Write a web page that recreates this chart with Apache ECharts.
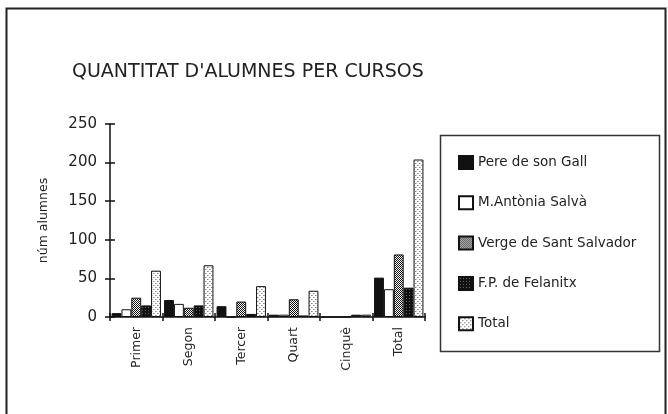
<!DOCTYPE html>
<html><head><meta charset="utf-8">
<script src="https://cdn.jsdelivr.net/npm/echarts@6/dist/echarts.min.js"></script>
<style>html,body{margin:0;padding:0;background:#fff}#c{width:668px;height:414px}</style>
</head><body><div id="c"></div>
<script>
const categories = ['Primer', 'Segon', 'Tercer', 'Quart', 'Cinquè', 'Total'];
const seriesNames = ['Pere de son Gall', 'M.Antònia Salvà', 'Verge de Sant Salvador', 'F.P. de Felanitx', 'Total'];
const pereValues   = [5, 22, 14, 3, 0, 51];
const antoniaValues = [10, 17, 0, 3, 0, 36];
const vergeValues  = [25, 12, 20, 23, 0, 81];
const fpValues     = [15, 15, 4, 2, 3, 38];
const totalValues  = [60, 67, 40, 34, 3, 204];
const yTicks = [0, 50, 100, 150, 200, 250];

function pattern(size, bg, dots) {
  const c = document.createElement('canvas');
  c.width = size; c.height = size;
  const g = c.getContext('2d');
  g.fillStyle = bg; g.fillRect(0, 0, size, size);
  dots.forEach(d => { g.fillStyle = d[2]; g.fillRect(d[0], d[1], 1, 1); });
  return { image: c, repeat: 'repeat' };
}
const vergeFill = pattern(2, '#fff', [[0,0,'#111'],[1,1,'#111']]);
const fpFill = pattern(3, '#111', [[1,1,'#666']]);
const totalFill = pattern(4, '#fff', [[1,1,'#888'],[3,3,'#888'],[2,1,'#bbb'],[0,3,'#bbb']]);

const fills = ['#111', '#fff', vergeFill, fpFill, totalFill];
const datas = [pereValues, antoniaValues, vergeValues, fpValues, totalValues];

const font = 'DejaVu Sans';
const chart = echarts.init(document.getElementById('c'), null, { renderer: 'canvas' });
chart.setOption({
  animation: false,
  backgroundColor: '#fff',
  title: {
    text: "QUANTITAT D'ALUMNES PER CURSOS",
    left: 67, top: 58,
    textStyle: { fontFamily: font, fontSize: 19, fontWeight: 'normal', color: '#222' }
  },
  graphic: [
    { type: 'rect', shape: { x: 6.5, y: 8.5, width: 659, height: 430 }, style: { fill: 'none', stroke: '#222', lineWidth: 2 } },
    { type: 'rect', shape: { x: 440.5, y: 135.5, width: 219, height: 216 }, style: { fill: 'none', stroke: '#333', lineWidth: 1.5 } }
  ],
  legend: {
    orient: 'vertical', left: 453, top: 150,
    itemWidth: 14, itemHeight: 13, itemGap: 25.3,
    icon: 'rect',
    textStyle: { fontFamily: font, fontSize: 13.5, color: '#222' },
    data: seriesNames
  },
  grid: { left: 110, right: 243, top: 124, bottom: 97, containLabel: false },
  xAxis: [{
    type: 'category', data: categories,
    axisLine: { lineStyle: { color: '#111', width: 1.5 } },
    axisTick: { show: true, length: 4, lineStyle: { color: '#111', width: 1.5 } },
    axisLabel: { rotate: 90, margin: 10, fontFamily: font, fontSize: 12.5, color: '#222' }
  }, {
    type: 'category', data: categories, position: 'bottom', gridIndex: 0,
    axisLine: { show: false },
    axisTick: { show: true, inside: true, length: 4, lineStyle: { color: '#111', width: 1.5 } },
    axisLabel: { show: false }
  }],
  yAxis: [{
    type: 'value', min: 0, max: 250, interval: 50,
    name: 'núm alumnes', nameLocation: 'middle', nameGap: 60,
    nameTextStyle: { fontFamily: font, fontSize: 12.5, color: '#222' },
    splitLine: { show: false },
    axisLine: { show: true, lineStyle: { color: '#111', width: 1.5 } },
    axisTick: { show: true, length: 5, lineStyle: { color: '#111', width: 1.5 } },
    axisLabel: { margin: 13, fontFamily: font, fontSize: 15, color: '#222',
      formatter: v => yTicks.includes(v) ? String(v) : '' }
  }, {
    type: 'value', min: 0, max: 250, interval: 50, position: 'left',
    splitLine: { show: false }, axisLine: { show: false },
    axisTick: { show: true, inside: true, length: 5, lineStyle: { color: '#111', width: 1.5 } },
    axisLabel: { show: false }
  }],
  series: seriesNames.map((n, i) => ({
    name: n, type: 'bar', data: datas[i],
    xAxisIndex: 0, yAxisIndex: 0,
    barGap: '0%', barCategoryGap: '6%',
    itemStyle: { color: fills[i], borderColor: '#111', borderWidth: 1 }
  }))
});
</script></body></html>
